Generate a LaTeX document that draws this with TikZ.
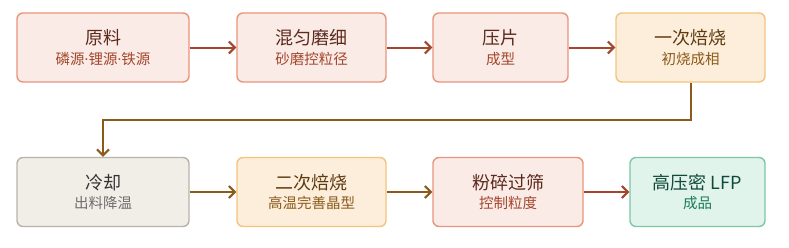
\documentclass[tikz,border=0pt]{standalone}
\usepackage{fontspec}
\setmainfont{Noto Sans CJK SC}
\newfontfamily\dotfont{Noto Sans}
\usepackage{xcolor}
\usetikzlibrary{arrows.meta,calc}
\definecolor{pinkfill}{HTML}{FAEBE6}
\definecolor{pinkline}{HTML}{E8957C}
\definecolor{pinktitle}{HTML}{5C2A1C}
\definecolor{pinksub}{HTML}{A3462C}
\definecolor{ambfill}{HTML}{FCEEDA}
\definecolor{ambline}{HTML}{F3C47E}
\definecolor{ambtitle}{HTML}{5E3A10}
\definecolor{ambsub}{HTML}{8C5A1C}
\definecolor{greyfill}{HTML}{F1EEE8}
\definecolor{greyline}{HTML}{B9B4AB}
\definecolor{greytitle}{HTML}{333333}
\definecolor{greysub}{HTML}{6E6E6E}
\definecolor{grnfill}{HTML}{E1F4EC}
\definecolor{grnline}{HTML}{7DC7A7}
\definecolor{grntitle}{HTML}{10493A}
\definecolor{grnsub}{HTML}{1D7A5C}
\definecolor{arrred}{HTML}{A3462C}
\definecolor{arrbrn}{HTML}{8C5A1C}
\newcommand{\mdot}{{\dotfont\fontsize{14}{16}\selectfont ·}}
\newcommand{\stagetxt}[3]{{\fontsize{18}{20}\selectfont #1}\\[5pt]{\color{#3}\fontsize{14.5}{16}\selectfont #2}}
\tikzset{
  stage/.style  ={rounded corners=6pt, line width=1.4pt, minimum height=69pt,
                  align=center, inner sep=0pt},
  pinkst/.style ={stage, draw=pinkline, fill=pinkfill, text=pinktitle},
  ambst/.style  ={stage, draw=ambline, fill=ambfill, text=ambtitle},
  greyst/.style ={stage, draw=greyline, fill=greyfill, text=greytitle},
  grnst/.style  ={stage, draw=grnline, fill=grnfill, text=grntitle},
  flow/.style   ={line width=2pt, -{Straight Barb[length=6pt,width=12pt,line width=2pt]}},
}

\begin{document}
\begin{tikzpicture}[x=1pt,y=1pt]
  \useasboundingbox[fill=white] (0,0) rectangle (789,247);
  % first row
  \node[pinkst,minimum width=172pt] (raw)   at (103,199.5)   {\stagetxt{原料}{磷源\mdot 锂源\mdot 铁源}{pinksub}};
  \node[pinkst,minimum width=149pt] (mill)  at (311.5,199.5) {\stagetxt{混匀磨细}{砂磨控粒径}{pinksub}};
  \node[pinkst,minimum width=135pt] (press) at (500.5,199.5) {\stagetxt{压片}{成型}{pinksub}};
  \node[ambst,minimum width=149pt]  (fire1) at (690.5,199.5) {\stagetxt{一次焙烧}{初烧成相}{ambsub}};
  % second row
  \node[greyst,minimum width=172pt] (cool)  at (103,55)      {\stagetxt{冷却}{出料降温}{greysub}};
  \node[ambst,minimum width=149pt]  (fire2) at (311.5,55)    {\stagetxt{二次焙烧}{高温完善晶型}{ambsub}};
  \node[pinkst,minimum width=150pt] (sieve) at (508,55)      {\stagetxt{粉碎过筛}{控制粒度}{pinksub}};
  \node[grnst,minimum width=135pt]  (lfp)   at (697.5,55)    {\stagetxt{高压密 LFP}{成品}{grnsub}};
  \coordinate (turn) at (0,127);
  % connectors
  \draw[flow,arrred] (raw) -- (mill);
  \draw[flow,arrred] (mill) -- (press);
  \draw[flow,arrred] (press) -- (fire1);
  \draw[flow,arrbrn] (fire1.south) -- (fire1.south |- turn) -| (cool.north);
  \draw[flow,arrbrn] (cool) -- (fire2);
  \draw[flow,arrbrn] (fire2) -- (sieve);
  \draw[flow,arrred] (sieve) -- (lfp);
\end{tikzpicture}
\end{document}
